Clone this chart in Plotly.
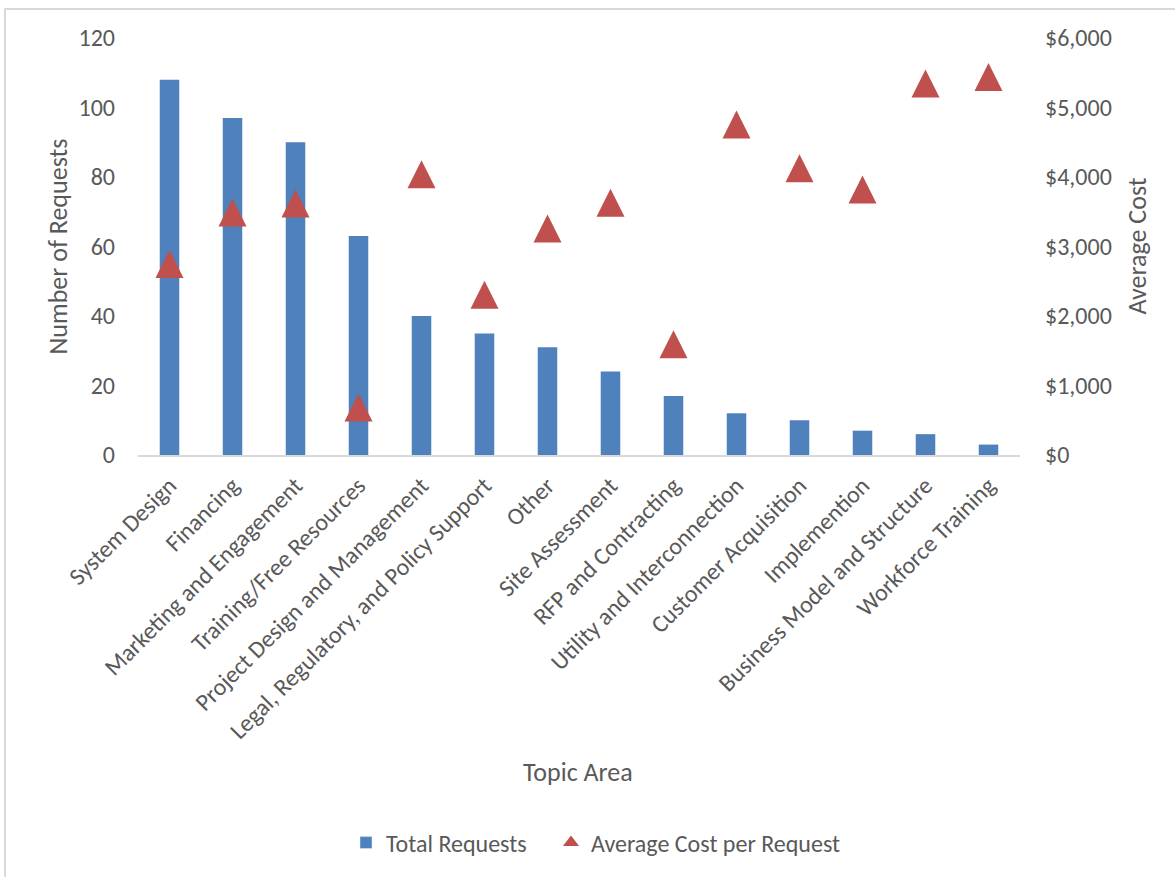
import plotly.graph_objects as go

# Topic areas, in display order
topics = [
    "System Design",
    "Financing",
    "Marketing and Engagement",
    "Training/Free Resources",
    "Project Design and Management",
    "Legal, Regulatory, and Policy Support",
    "Other",
    "Site Assessment",
    "RFP and Contracting",
    "Utility and Interconnection",
    "Customer Acquisition",
    "Implemention",
    "Business Model and Structure",
    "Workforce Training",
]

# Number of requests per topic (left axis)
total_requests = [108, 97, 90, 63, 40, 35, 31, 24, 17, 12, 10, 7, 6, 3]

# Average cost per request in dollars (right axis)
avg_cost = [2750, 3490, 3620, 685, 4040, 2305, 3260, 3630, 1595, 4755, 4125, 3820, 5345, 5440]

# Axis ticks
left_ticks = [0, 20, 40, 60, 80, 100, 120]
right_ticks = [0, 1000, 2000, 3000, 4000, 5000, 6000]
right_tick_text = ["$0", "$1,000", "$2,000", "$3,000", "$4,000", "$5,000", "$6,000"]

BLUE = "#4f81bd"
RED = "#c0504d"
TEXT = "#595959"
FONT = "Calibri, Carlito, Lato, sans-serif"

W, H = 1175, 877
L, R, T, B = 138, 155, 38, 422
PW, PH = W - L - R, H - T - B


def px_to_paper_x(px):
    return (px - L) / PW


def px_to_paper_y(py):
    return (H - B - py) / PH


fig = go.Figure()

fig.add_trace(go.Bar(
    x=topics, y=total_requests, name="Total Requests",
    marker=dict(color=BLUE, line=dict(width=0)),
    width=0.31, yaxis="y", showlegend=False,
))

# Upward triangle centred on its value: an arrow-down glyph turned 180°
# and pushed back by half its size.
TRI = 28
fig.add_trace(go.Scatter(
    x=topics, y=avg_cost, name="Average Cost per Request",
    mode="markers", yaxis="y2", showlegend=False,
    marker=dict(symbol="arrow-down", angle=180, standoff=TRI / 2,
                size=TRI, color=RED, line=dict(width=0)),
))

# Legend entries, one legend box each so they can sit side by side
fig.add_trace(go.Bar(
    x=[None], y=[None], name="Total Requests",
    marker=dict(color=BLUE), yaxis="y", legend="legend",
))
fig.add_trace(go.Scatter(
    x=[None], y=[None], name="Average Cost per Request", mode="markers",
    marker=dict(symbol="triangle-up", size=14, color=RED, line=dict(width=0)),
    yaxis="y2", legend="legend2",
))

legend_style = dict(
    orientation="h", xanchor="left", yanchor="middle",
    y=px_to_paper_y(843), font=dict(size=24, color=TEXT),
    itemsizing="trace", bgcolor="rgba(0,0,0,0)",
)

fig.update_layout(
    width=W, height=H,
    margin=dict(l=L, r=R, t=T, b=B, autoexpand=False),
    paper_bgcolor="white", plot_bgcolor="white",
    font=dict(family=FONT, color=TEXT, size=24),
    bargap=0.69,
    xaxis=dict(
        type="category", range=[-0.5, len(topics) - 0.5],
        showgrid=False, zeroline=False,
        showline=True, linecolor="#d9d9d9", linewidth=2,
        ticks="", tickangle=-45, tickfont=dict(size=24, color=TEXT),
        ticklabelstandoff=5, automargin=False,
    ),
    yaxis=dict(
        range=[0, 120], tickvals=left_ticks, showgrid=False, zeroline=False,
        showline=False, ticks="", tickfont=dict(size=24, color=TEXT),
        ticklabelstandoff=22, automargin=False,
    ),
    yaxis2=dict(
        range=[0, 6000], tickvals=right_ticks, ticktext=right_tick_text,
        overlaying="y", side="right", showgrid=False, zeroline=False,
        showline=False, ticks="", tickfont=dict(size=24, color=TEXT),
        ticklabelstandoff=24, automargin=False,
    ),
    legend=dict(x=px_to_paper_x(346), **legend_style),
    legend2=dict(x=px_to_paper_x(551), **legend_style),
    annotations=[
        dict(text="Number of Requests", xref="paper", yref="paper",
             x=px_to_paper_x(57), y=0.5, textangle=-90, showarrow=False,
             font=dict(size=26, color=TEXT), xanchor="center", yanchor="middle"),
        dict(text="Average Cost", xref="paper", yref="paper",
             x=px_to_paper_x(1136), y=0.5, textangle=-90, showarrow=False,
             font=dict(size=26, color=TEXT), xanchor="center", yanchor="middle"),
        dict(text="Topic Area", xref="paper", yref="paper",
             x=px_to_paper_x(578), y=px_to_paper_y(772), showarrow=False,
             font=dict(size=26, color=TEXT), xanchor="center", yanchor="middle"),
    ],
    shapes=[
        dict(type="rect", xref="paper", yref="paper", layer="below",
             x0=px_to_paper_x(5), x1=px_to_paper_x(W + 10),
             y0=px_to_paper_y(H + 10), y1=px_to_paper_y(9),
             line=dict(color="#d9d9d9", width=2), fillcolor="rgba(0,0,0,0)"),
    ],
)

fig.write_html("out.html")
